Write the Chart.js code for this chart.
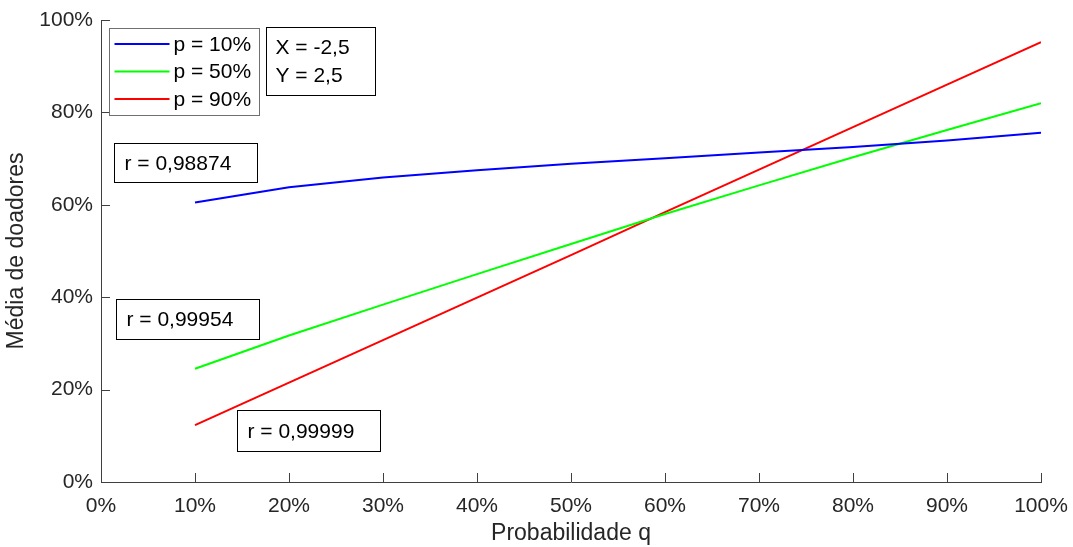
<!DOCTYPE html>
<html>
<head>
<meta charset="utf-8">
<script src="https://cdn.jsdelivr.net/npm/chart.js@4.4.1/dist/chart.umd.min.js"></script>
<style>
  html, body { margin: 0; padding: 0; background: #fff; }
  canvas { display: block; }
</style>
</head>
<body>
<canvas id="doadoresChart" width="1073" height="547"></canvas>
<script>
// probabilidade q (%) e média de doadores (%) para cada p
const qValues = [10, 20, 30, 40, 50, 60, 70, 80, 90, 100];
const mediaP10 = [60.5, 63.8, 65.9, 67.5, 68.9, 70.1, 71.3, 72.5, 73.9, 75.6];
const mediaP50 = [24.5, 31.7, 38.4, 45.0, 51.5, 58.0, 64.2, 70.3, 76.2, 82.0];
const mediaP90 = [12.3, 21.5, 30.7, 39.9, 49.1, 58.4, 67.6, 76.8, 86.0, 95.2];
const seriesLabels = ['p = 10%', 'p = 50%', 'p = 90%'];
const seriesColors = ['#0000ff', '#00ff00', '#ff0000'];
const xTickValues = [0, 10, 20, 30, 40, 50, 60, 70, 80, 90, 100];
const yTickValues = [0, 20, 40, 60, 80, 100];
const paramLines = ['X = -2,5', 'Y = 2,5'];
const rLabels = ['r = 0,98874', 'r = 0,99954', 'r = 0,99999'];

const FONT = "'Liberation Sans', Arial, Helvetica, sans-serif";
const AXIS_COLOR = '#404040';
const TEXT_COLOR = '#262626';

// caixas de texto: canto superior esquerdo em unidades dos eixos, tamanho em px
const legendBox = { x: 0.8, y: 98.3, w: 150, h: 87 };
const paramBox = { x: 17.6, y: 98.55, w: 109, h: 68 };
const rBoxes = [
  { x: 1.4, y: 73.4, w: 143, h: 39 },
  { x: 1.6, y: 39.7, w: 143, h: 40 },
  { x: 14.5, y: 15.5, w: 143, h: 41 }
];

const toPoints = arr => qValues.map((q, i) => ({ x: q, y: arr[i] }));

const datasets = [mediaP10, mediaP50, mediaP90].map((arr, i) => ({
  label: seriesLabels[i],
  data: toPoints(arr),
  borderColor: seriesColors[i],
  backgroundColor: seriesColors[i],
  borderWidth: 2,
  pointRadius: 0,
  tension: 0,
  fill: false
}));

// ticks para dentro, legenda e anotações
const matlabLook = {
  id: 'matlabLook',
  afterDraw(chart) {
    const { ctx, chartArea, scales } = chart;
    const xs = scales.x, ys = scales.y;
    const tickLen = 9;

    ctx.save();
    ctx.strokeStyle = AXIS_COLOR;
    ctx.lineWidth = 1;
    ctx.beginPath();
    xTickValues.forEach(v => {
      const px = Math.round(xs.getPixelForValue(v)) + 0.5;
      ctx.moveTo(px, chartArea.bottom);
      ctx.lineTo(px, chartArea.bottom - tickLen);
    });
    yTickValues.forEach(v => {
      const py = Math.round(ys.getPixelForValue(v)) + 0.5;
      ctx.moveTo(chartArea.left, py);
      ctx.lineTo(chartArea.left + tickLen, py);
    });
    ctx.stroke();

    const boxAt = b => ({
      left: Math.round(xs.getPixelForValue(b.x)) + 0.5,
      top: Math.round(ys.getPixelForValue(b.y)) + 0.5,
      w: b.w, h: b.h
    });

    ctx.font = '21px ' + FONT;
    ctx.textBaseline = 'middle';
    ctx.textAlign = 'left';

    // legenda
    const lg = boxAt(legendBox);
    ctx.fillStyle = '#fff';
    ctx.fillRect(lg.left, lg.top, lg.w, lg.h);
    ctx.strokeStyle = '#707070';
    ctx.strokeRect(lg.left, lg.top, lg.w, lg.h);
    chart.data.datasets.forEach((ds, i) => {
      const cy = lg.top + 15.5 + i * 27.5;
      ctx.strokeStyle = ds.borderColor;
      ctx.lineWidth = 2;
      ctx.beginPath();
      ctx.moveTo(lg.left + 5, cy);
      ctx.lineTo(lg.left + 60, cy);
      ctx.stroke();
      ctx.fillStyle = '#000';
      ctx.fillText(ds.label, lg.left + 64, cy + 1);
    });
    ctx.lineWidth = 1;

    // parâmetros X e Y
    const pb = boxAt(paramBox);
    ctx.fillStyle = '#fff';
    ctx.fillRect(pb.left, pb.top, pb.w, pb.h);
    ctx.strokeStyle = '#000';
    ctx.strokeRect(pb.left, pb.top, pb.w, pb.h);
    ctx.fillStyle = '#000';
    paramLines.forEach((t, i) => ctx.fillText(t, pb.left + 9, pb.top + 21 + i * 27.3));

    // coeficientes de correlação
    rBoxes.forEach((b, i) => {
      const rb = boxAt(b);
      ctx.fillStyle = '#fff';
      ctx.fillRect(rb.left, rb.top, rb.w, rb.h);
      ctx.strokeStyle = '#000';
      ctx.strokeRect(rb.left, rb.top, rb.w, rb.h);
      ctx.fillStyle = '#000';
      ctx.fillText(rLabels[i], rb.left + 10, rb.top + rb.h / 2 + 1);
    });
    ctx.restore();
  }
};

new Chart(document.getElementById('doadoresChart').getContext('2d'), {
  type: 'line',
  data: { datasets },
  options: {
    responsive: false,
    animation: false,
    events: [],
    layout: { autoPadding: false, padding: { left: 0, right: 32, top: 20, bottom: 0 } },
    plugins: { legend: { display: false }, tooltip: { enabled: false } },
    scales: {
      x: {
        type: 'linear',
        min: 0,
        max: 100,
        afterFit: s => { s.height = 65; s.paddingLeft = 0; s.paddingRight = 0; },
        afterBuildTicks: s => { s.ticks = xTickValues.map(v => ({ value: v })); },
        grid: { display: false, drawTicks: false },
        border: { display: true, color: AXIS_COLOR, width: 1 },
        ticks: {
          padding: 12,
          color: TEXT_COLOR,
          font: { family: FONT, size: 21 },
          maxRotation: 0,
          autoSkip: false,
          callback: v => v + '%'
        },
        title: {
          display: true,
          text: 'Probabilidade q',
          color: TEXT_COLOR,
          font: { family: FONT, size: 23 },
          padding: { top: 0, bottom: 0 }
        }
      },
      y: {
        type: 'linear',
        min: 0,
        max: 100,
        afterFit: s => { s.width = 101; s.paddingTop = 0; s.paddingBottom = 0; },
        afterBuildTicks: s => { s.ticks = yTickValues.map(v => ({ value: v })); },
        grid: { display: false, drawTicks: false },
        border: { display: true, color: AXIS_COLOR, width: 1 },
        ticks: {
          padding: 8,
          color: TEXT_COLOR,
          font: { family: FONT, size: 21 },
          callback: v => v + '%'
        },
        title: {
          display: true,
          text: 'Média de doadores',
          color: TEXT_COLOR,
          font: { family: FONT, size: 23 },
          padding: { top: 3, bottom: 0 }
        }
      }
    }
  },
  plugins: [matlabLook]
});
</script>
</body>
</html>
